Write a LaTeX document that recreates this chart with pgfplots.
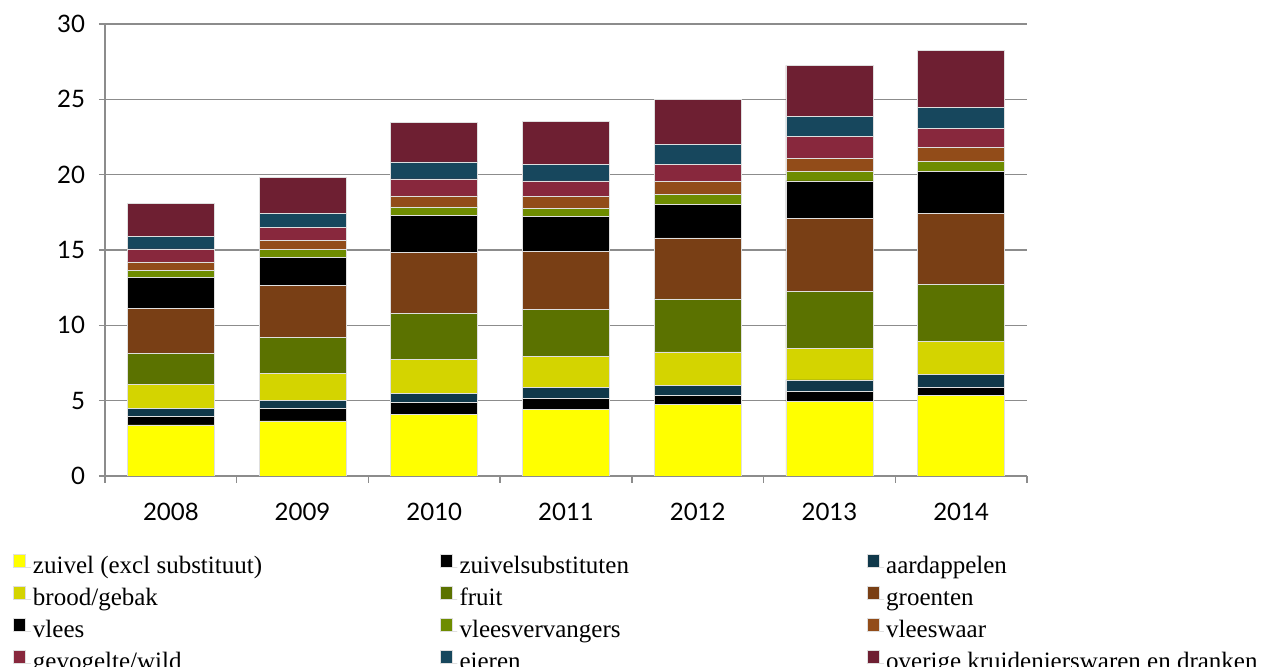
\documentclass[border=0pt]{standalone}
\usepackage{pgfplots}
\pgfplotsset{compat=1.18}
\usepackage{pgfplotstable}
\usepackage{fontspec}
\setmainfont{Liberation Serif}
\newfontfamily\ticksans{Lato}
\definecolor{cZu}{HTML}{FFFF00}
\definecolor{cZs}{HTML}{000000}
\definecolor{cAa}{HTML}{10384A}
\definecolor{cBr}{HTML}{D4D400}
\definecolor{cFr}{HTML}{5B7200}
\definecolor{cGr}{HTML}{793F15}
\definecolor{cVl}{HTML}{000000}
\definecolor{cVv}{HTML}{6E8C00}
\definecolor{cVw}{HTML}{924C19}
\definecolor{cGe}{HTML}{88283D}
\definecolor{cEi}{HTML}{17475D}
\definecolor{cOv}{HTML}{6E1F32}
\definecolor{axgray}{HTML}{8C8C8C}
\pgfplotstableread{
x zu zs aa br fr gr vl vv vw ge ei ov
0 3.39 0.55 0.56 1.57 2.09 2.94 2.09 0.48 0.54 0.86 0.84 2.18
1 3.66 0.84 0.51 1.79 2.38 3.45 1.89 0.53 0.60 0.86 0.93 2.37
2 4.10 0.80 0.57 2.27 3.07 4.04 2.46 0.55 0.73 1.13 1.13 2.60
3 4.43 0.71 0.76 2.06 3.12 3.84 2.32 0.53 0.80 1.02 1.11 2.86
4 4.77 0.59 0.67 2.21 3.51 4.05 2.24 0.67 0.84 1.15 1.29 3.03
5 4.94 0.69 0.75 2.11 3.74 4.86 2.50 0.60 0.87 1.46 1.33 3.41
6 5.36 0.54 0.86 2.17 3.77 4.72 2.79 0.67 0.91 1.26 1.40 3.79
}\data
\newcommand{\lgt}[1]{\makebox[202.5pt][l]{#1}}
\begin{document}
\begin{tikzpicture}
\clip (-52.5pt,-95.5pt) rectangle (586pt,238pt);
\begin{axis}[
  at={(0pt,0pt)}, anchor=south west,
  scale only axis, width=461pt, height=226pt,
  ybar stacked, bar width=43.5pt,
  xmin=-0.5, xmax=6.5, ymin=0, ymax=30,
  xtick={0,...,6},
  xticklabels={2008,2009,2010,2011,2012,2013,2014},
  minor xtick={-0.5,0.5,...,6.5},
  ytick={0,5,...,30},
  axis x line*=bottom, axis y line*=left,
  axis line style={draw=axgray, line width=0.7pt, -},
  ymajorgrids, grid style={draw=axgray, line width=0.6pt},
  tick align=outside,
  major tick style={draw=axgray, line width=0.7pt},
  minor tick style={draw=axgray, line width=0.7pt},
  major x tick style={draw=none},
  minor tick length=3.5pt, major tick length=3pt,
  /pgf/number format/assume math mode=true,
  tick label style={font=\fontsize{12}{14}\selectfont\ticksans},
  xticklabel style={yshift=-7pt},
  yticklabel style={xshift=-3.5pt},
  legend columns=3,
  legend style={at={(-0.0998,-0.1704)}, anchor=north west, draw=none, fill=none,
    inner sep=0pt, column sep=0pt, row sep=2pt,
    font=\fontsize{12.5}{14}\selectfont,
    nodes={inner sep=1pt, text height=9pt, text depth=3pt}},
  legend cell align=left,
  legend image code/.code={\path (0,0) -- (8.5pt,0); \fill[#1] (0pt,0pt) rectangle (6pt,6.5pt);},
  every axis plot/.append style={draw=white!75!gray, line width=0.3pt},
]
\addplot[fill=cZu] table[x=x,y=zu]{\data}; \addlegendentry{\lgt{zuivel (excl substituut)}}
\addplot[fill=cZs] table[x=x,y=zs]{\data}; \addlegendentry{\lgt{zuivelsubstituten}}
\addplot[fill=cAa] table[x=x,y=aa]{\data}; \addlegendentry{\lgt{aardappelen}}
\addplot[fill=cBr] table[x=x,y=br]{\data}; \addlegendentry{\lgt{brood/gebak}}
\addplot[fill=cFr] table[x=x,y=fr]{\data}; \addlegendentry{\lgt{fruit}}
\addplot[fill=cGr] table[x=x,y=gr]{\data}; \addlegendentry{\lgt{groenten}}
\addplot[fill=cVl] table[x=x,y=vl]{\data}; \addlegendentry{\lgt{vlees}}
\addplot[fill=cVv] table[x=x,y=vv]{\data}; \addlegendentry{\lgt{vleesvervangers}}
\addplot[fill=cVw] table[x=x,y=vw]{\data}; \addlegendentry{\lgt{vleeswaar}}
\addplot[fill=cGe] table[x=x,y=ge]{\data}; \addlegendentry{\lgt{gevogelte/wild}}
\addplot[fill=cEi] table[x=x,y=ei]{\data}; \addlegendentry{\lgt{eieren}}
\addplot[fill=cOv] table[x=x,y=ov]{\data}; \addlegendentry{\lgt{overige kruidenierswaren en dranken}}
\end{axis}
\end{tikzpicture}
\end{document}
